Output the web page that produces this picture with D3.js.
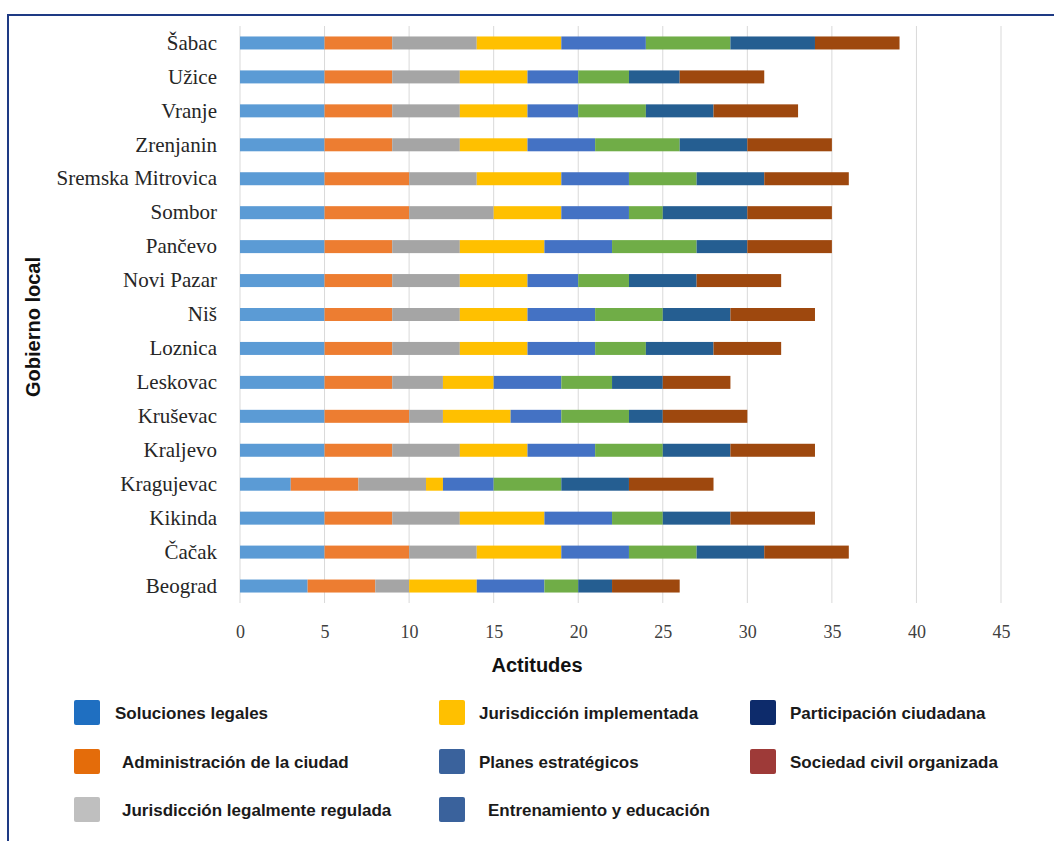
<!DOCTYPE html>
<html>
<head>
<meta charset="utf-8">
<script src="https://cdn.jsdelivr.net/npm/d3@7"></script>
<style>
  html, body { margin: 0; padding: 0; background: #fff; }
  svg { display: block; }
</style>
</head>
<body>
<svg id="chart" width="1054" height="841"></svg>
<script>
// Local governments, top to bottom
const cities = [
  "Šabac", "Užice", "Vranje", "Zrenjanin", "Sremska Mitrovica", "Sombor",
  "Pančevo", "Novi Pazar", "Niš", "Loznica", "Leskovac", "Kruševac",
  "Kraljevo", "Kragujevac", "Kikinda", "Čačak", "Beograd"
];

// Attitude dimensions (stack order, left to right)
const seriesNames = [
  "Soluciones legales",
  "Administración de la ciudad",
  "Jurisdicción legalmente regulada",
  "Jurisdicción implementada",
  "Planes estratégicos",
  "Entrenamiento y educación",
  "Participación ciudadana",
  "Sociedad civil organizada"
];

// Scores per city, one array per dimension (same order as cities)
const solucionesLegales      = [5, 5, 5, 5, 5, 5, 5, 5, 5, 5, 5, 5, 5, 3, 5, 5, 4];
const administracionCiudad   = [4, 4, 4, 4, 5, 5, 4, 4, 4, 4, 4, 5, 4, 4, 4, 5, 4];
const jurisdiccionRegulada   = [5, 4, 4, 4, 4, 5, 4, 4, 4, 4, 3, 2, 4, 4, 4, 4, 2];
const jurisdiccionImplement  = [5, 4, 4, 4, 5, 4, 5, 4, 4, 4, 3, 4, 4, 1, 5, 5, 4];
const planesEstrategicos     = [5, 3, 3, 4, 4, 4, 4, 3, 4, 4, 4, 3, 4, 3, 4, 4, 4];
const entrenamientoEducacion = [5, 3, 4, 5, 4, 2, 5, 3, 4, 3, 3, 4, 4, 4, 3, 4, 2];
const participacionCiudadana = [5, 3, 4, 4, 4, 5, 3, 4, 4, 4, 3, 2, 4, 4, 4, 4, 2];
const sociedadCivil          = [5, 5, 5, 5, 5, 5, 5, 5, 5, 4, 4, 5, 5, 5, 5, 5, 4];

const seriesValues = [
  solucionesLegales, administracionCiudad, jurisdiccionRegulada, jurisdiccionImplement,
  planesEstrategicos, entrenamientoEducacion, participacionCiudadana, sociedadCivil
];

const xTicks = [0, 5, 10, 15, 20, 25, 30, 35, 40, 45];

// Styling
const barColors = ["#5B9BD5", "#ED7D31", "#A5A5A5", "#FFC000", "#4472C4", "#70AD47", "#255E91", "#9E480E"];
const legendColors = ["#1F6FC1", "#E46C0A", "#BFBFBF", "#FFC000", "#3A629C", "#3A629C", "#0D2B6B", "#9E3A38"];

// Build rows for the stack layout
const rows = cities.map((c, i) => {
  const r = { city: c };
  seriesNames.forEach((s, k) => { r[s] = seriesValues[k][i]; });
  return r;
});

const svg = d3.select("#chart");

// Frame lines (top and left)
svg.append("rect")
  .attr("x", 8).attr("y", 15)
  .attr("width", 1060).attr("height", 840)
  .attr("fill", "none")
  .attr("stroke", "#1E3A84")
  .attr("stroke-width", 2);

const x = d3.scaleLinear().domain([0, 45]).range([240, 1001]);
const y = d3.scaleBand().domain(cities).range([26, 603])
  .paddingInner(0.617).paddingOuter(0.3085);

const plotTop = 26, plotBottom = 603;

// Vertical gridlines
svg.append("g")
  .selectAll("line")
  .data(xTicks)
  .join("line")
  .attr("x1", d => x(d)).attr("x2", d => x(d))
  .attr("y1", plotTop).attr("y2", plotBottom)
  .attr("stroke", "#D9D9D9")
  .attr("stroke-width", 1);

// Stacked bars
const stack = d3.stack().keys(seriesNames);
const layers = stack(rows);

svg.append("g")
  .selectAll("g")
  .data(layers)
  .join("g")
  .attr("fill", (d, i) => barColors[i])
  .selectAll("rect")
  .data(d => d)
  .join("rect")
  .attr("x", d => x(d[0]))
  .attr("width", d => x(d[1]) - x(d[0]))
  .attr("y", d => y(d.data.city))
  .attr("height", y.bandwidth());

// Category labels
const yAxis = svg.append("g")
  .attr("transform", `translate(${x(0)},0)`)
  .call(d3.axisLeft(y).tickSize(0).tickPadding(23));
yAxis.select(".domain").remove();
yAxis.selectAll("text")
  .attr("font-family", "'Liberation Serif', 'Times New Roman', serif")
  .attr("font-size", 21)
  .attr("fill", "#262626");

// Value axis labels
const xAxis = svg.append("g")
  .attr("transform", `translate(0,${plotBottom})`)
  .call(d3.axisBottom(x).tickValues(xTicks).tickSize(0).tickPadding(22).tickFormat(d3.format("d")));
xAxis.select(".domain").remove();
xAxis.selectAll("text")
  .attr("font-family", "'Liberation Serif', 'Times New Roman', serif")
  .attr("font-size", 18)
  .attr("fill", "#404040");

// Axis titles
svg.append("text")
  .attr("x", 537).attr("y", 672)
  .attr("text-anchor", "middle")
  .attr("font-family", "'Liberation Sans', Arial, sans-serif")
  .attr("font-weight", "bold")
  .attr("font-size", 20)
  .attr("fill", "#111")
  .text("Actitudes");

svg.append("text")
  .attr("transform", "translate(40,327) rotate(-90)")
  .attr("text-anchor", "middle")
  .attr("font-family", "'Liberation Sans', Arial, sans-serif")
  .attr("font-weight", "bold")
  .attr("font-size", 20)
  .attr("fill", "#111")
  .text("Gobierno local");

// Legend: three columns, filled top to bottom
const legendCols = [74, 439, 750];
const legendRows = [700, 749, 797];
const legendIndent = [41, 48, 48, 40, 40, 49, 40, 40];

const legend = svg.append("g")
  .selectAll("g")
  .data(seriesNames)
  .join("g")
  .attr("transform", (d, i) => `translate(${legendCols[Math.floor(i / 3)]},${legendRows[i % 3]})`);

legend.append("rect")
  .attr("width", 26).attr("height", 25)
  .attr("rx", 2)
  .attr("fill", (d, i) => legendColors[i]);

legend.append("text")
  .attr("x", (d, i) => legendIndent[i])
  .attr("y", 19)
  .attr("font-family", "'Liberation Sans', Arial, sans-serif")
  .attr("font-weight", "bold")
  .attr("font-size", 17)
  .attr("fill", "#1A1A1A")
  .text(d => d);
</script>
</body>
</html>
